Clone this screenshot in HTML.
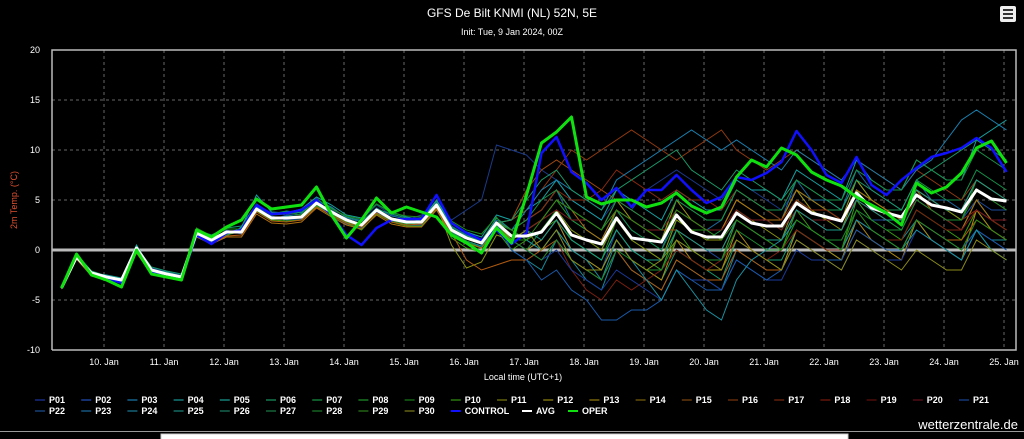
<!DOCTYPE html>
<html><head><meta charset="utf-8"><style>
html,body{margin:0;padding:0;background:#000;width:1024px;height:439px;overflow:hidden}
svg{display:block;font-family:"Liberation Sans",sans-serif}
</style></head><body>
<svg id="chart" width="1024" height="439" viewBox="0 0 1024 439">
<rect x="0" y="0" width="1024" height="439" fill="#000"/>
<text x="512" y="17" fill="#fff" font-size="12" text-anchor="middle">GFS De Bilt KNMI (NL) 52N, 5E</text>
<text x="512" y="35" fill="#fff" font-size="9" text-anchor="middle">Init: Tue, 9 Jan 2024, 00Z</text>
<g>
<rect x="1000" y="6" width="16" height="16" rx="2" fill="#eee"/>
<rect x="1003" y="9" width="10" height="2" fill="#333"/><rect x="1003" y="13" width="10" height="2" fill="#333"/><rect x="1003" y="17" width="10" height="2" fill="#333"/>
</g>
<text transform="translate(17,200) rotate(-90)" fill="#e05030" font-size="9" text-anchor="middle">2m Temp. (°C)</text>
<text x="523" y="380" fill="#fff" font-size="9" text-anchor="middle">Local time (UTC+1)</text>
<g id="grid"></g>
<g id="series"></g>
<g id="legend"></g>
<line x1="0" y1="431.5" x2="1024" y2="431.5" stroke="#999" stroke-width="1"/>
<rect x="0" y="432" width="1024" height="7" fill="#000"/>
<rect x="161" y="434" width="687" height="6" fill="#fff" stroke="#ccc"/>
<text x="1018" y="429" fill="#fff" font-size="13" text-anchor="end">wetterzentrale.de</text>
</svg>
<script>
const yTicks=[20,15,10,5,0,-5,-10];
const xTickLabels=["10. Jan","11. Jan","12. Jan","13. Jan","14. Jan","15. Jan","16. Jan","17. Jan","18. Jan","19. Jan","20. Jan","21. Jan","22. Jan","23. Jan","24. Jan","25. Jan"];
const avgValues=[-3.8,-0.7,-2.3,-2.7,-3.0,0.2,-2.0,-2.4,-2.7,1.7,1.0,1.8,1.8,4.1,3.2,3.2,3.3,4.7,3.8,3.0,2.5,4.0,3.1,2.8,2.8,4.5,2.0,1.2,0.7,2.7,1.4,1.4,1.8,3.7,1.5,1.0,0.6,3.2,1.2,1.0,0.8,3.5,1.8,1.3,1.3,3.7,2.7,2.4,2.4,4.7,3.7,3.3,2.9,5.7,4.2,3.7,3.3,5.5,4.5,4.2,3.8,6.0,5.1,4.9];
const operValues=[-3.8,-0.4,-2.5,-3.0,-3.7,0.0,-2.4,-2.7,-3.0,2.0,1.3,2.3,3.0,5.1,4.1,4.3,4.5,6.3,3.5,1.2,3.0,5.2,3.7,4.3,3.8,3.3,1.5,0.7,-0.3,2.2,0.7,5.5,10.7,11.8,13.3,5.3,4.6,5.0,5.0,4.3,4.7,5.7,4.4,3.7,4.3,7.3,9.0,8.3,10.2,9.5,7.8,7.0,6.4,5.3,4.5,3.7,2.5,6.7,5.7,6.3,7.7,10.2,10.9,8.7];
const controlValues=[-3.8,-0.6,-2.4,-2.8,-3.3,0.1,-2.2,-2.6,-2.9,1.5,0.6,1.7,2.0,4.5,3.6,3.7,4.0,5.0,3.5,1.5,0.5,2.2,3.0,3.1,3.1,5.5,2.7,1.7,1.0,2.0,0.6,1.7,9.7,11.3,7.8,6.7,5.0,6.2,4.3,6.0,6.0,7.5,6.0,4.7,5.3,7.3,7.0,7.7,8.8,11.9,10.0,7.5,6.7,9.3,6.5,5.5,7.0,8.2,9.3,9.7,10.2,11.2,10.2,7.8];
const sharedEarly=[-3.8,-0.7,-2.3,-2.7,-3.0,0.2,-2.0,-2.4,-2.7,1.7,1.0,1.8,1.8,4.1,3.2,3.2,3.3,4.7,3.8,3.0,2.5,4.0,3.1,2.8,2.8,4.5,2.0,1.2,0.7,2.7];
const p01=[-3.8,-0.5,-2.2,-2.6,-2.9,0.4,-1.8,-2.2,-2.5,1.5,0.8,1.5,2.0,4.4,3.0,3.5,3.8,5.2,4.0,3.4,3.0,4.5,3.5,3.0,3.5,4.0,3.0,4.0,5.0,10.5,10,9.5,8,7,5,4,3,5,4,6,7,8,7,6,5,7,6,5,4,6,5,4,3,5,4,4,3,6,5,4,3,5,3,2];
const p02=[-3.7,-0.8,-2.4,-2.8,-3.2,0.3,-2.1,-2.5,-2.8,1.4,0.9,2.0,1.6,4.0,3.4,3.0,3.1,4.4,3.5,2.6,2.2,3.8,2.8,2.5,2.5,4.2,1.5,0.8,0.3,2.5,1,0,1,3,0,-1,-2,2,0,-1,-2,2,1,0,-1,3,2,1,1,4,3,2,2,5,3,3,2,5,4,3,3,5,4,4];
const p03=[-3.8,-0.6,-2.2,-2.9,-3.1,0.0,-2.0,-2.3,-2.6,1.8,1.2,1.6,2.2,4.3,3.5,3.6,3.8,4.9,4.3,3.2,2.8,4.2,3.4,3.1,3.2,4.8,2.4,1.5,1.0,3.0,2,3,4,6,3,2,1,4,2,1,0,4,3,2,3,6,5,4,3,7,5,5,4,8,6,5,4,7,5,5,4,7,6,5];
const p04=[-3.9,-0.7,-2.5,-2.8,-3.0,0.1,-1.9,-2.4,-2.7,1.6,1.1,1.9,1.7,4.2,3.1,3.4,3.6,4.6,3.9,3.1,2.4,3.9,3.0,2.9,2.6,4.4,1.8,0.9,0.4,2.6,0,-1,-2,1,-1,-3,-4,0,-2,-3,-4,-1,-2,-3,-4,0,-1,-2,-2,2,1,0,0,3,2,1,1,3,2,1,0,2,1,1];
const p05=[-3.8,-0.9,-2.3,-2.5,-2.8,0.5,-2.0,-2.2,-2.6,1.9,0.7,1.4,2.3,5.5,3.8,3.7,4.1,5.3,4.5,3.5,3.2,4.6,3.8,3.3,3.0,5.0,2.6,1.8,1.3,3.5,3,4,5,7,5,4,3,6,5,4,3,6,5,4,4,7,6,6,5,8,7,6,5,9,7,6,6,9,8,7,7,11,12,13];
const p06=[-3.7,-0.4,-2.1,-2.6,-2.9,0.3,-1.7,-2.1,-2.4,2.0,1.5,2.2,2.4,4.6,3.6,3.9,3.7,5.0,4.2,3.3,2.9,4.1,3.6,3.2,2.9,4.9,2.3,1.4,0.9,3.2,2,1,0,2,0,-1,-2,1,-1,-2,-3,0,-1,-2,-3,1,0,-1,-1,2,1,0,-1,3,2,1,0,3,1,0,-1,2,0,-1];
const p07=[-3.8,-0.7,-2.4,-2.7,-3.0,0.2,-2.1,-2.5,-2.8,1.8,1.0,1.8,1.9,4.1,3.2,3.1,3.4,4.8,3.7,2.9,2.6,4.0,3.2,2.7,2.8,4.6,2.2,1.1,0.6,2.8,1,0,2,4,2,1,0,4,2,1,0,3,2,1,2,5,4,3,3,6,5,4,4,7,5,4,4,7,6,5,5,8,7,6];
const p08=[-3.8,-0.6,-2.3,-2.7,-3.1,0.2,-2.0,-2.4,-2.7,1.7,1.3,1.7,1.8,4.0,3.3,3.3,3.2,4.5,3.6,2.8,2.3,3.7,2.9,2.6,2.7,4.3,1.7,0.9,0.2,2.4,1,2,3,5,3,2,1,4,3,2,1,5,4,3,3,6,5,4,3,6,5,4,3,6,4,3,2,5,4,3,2,5,3,2];
const p09=[-3.7,-0.5,-2.2,-2.6,-2.9,0.3,-1.9,-2.3,-2.6,2.2,1.4,2.1,2.1,4.4,3.7,3.8,3.5,5.1,4.1,3.4,3.1,4.6,3.7,3.4,3.3,5.4,2.9,2.0,1.6,3.3,1,1,2,4,1,0,-1,3,1,0,-1,3,2,2,1,4,3,3,2,5,4,3,3,6,5,4,3,6,5,4,3,7,6,5];
const p10=[-3.8,-0.8,-2.4,-2.8,-3.1,0.1,-2.1,-2.5,-2.8,1.5,0.9,1.5,1.9,3.9,3.0,2.9,3.0,4.4,3.4,2.7,2.0,3.6,2.8,2.4,2.4,4.1,1.2,0.2,-0.2,2.0,0,1,2,3,1,0,-1,2,0,-1,-2,2,0,-1,-1,3,2,1,0,4,2,1,0,5,3,2,1,4,3,2,1,4,2,1];
const p11=[-3.8,-0.7,-2.3,-2.7,-3.0,0.2,-2.0,-2.4,-2.7,1.6,1.0,1.8,1.8,4.1,3.2,3.2,3.3,4.7,3.8,3.0,2.5,4.0,3.1,2.8,2.8,4.5,0.5,-1.8,-1.2,1.5,1,2,3,4,2,1,0,3,1,0,-1,3,2,1,1,4,3,2,1,5,4,3,2,6,5,4,3,6,5,4,3,6,5,4];
const p12=[-3.8,-0.6,-2.2,-2.7,-3.0,0.2,-2.0,-2.3,-2.6,1.7,1.1,1.9,1.9,4.2,3.3,3.3,3.4,4.8,3.9,3.1,2.6,4.1,3.2,2.9,2.9,4.6,2.1,1.3,0.8,2.8,2,3,4,6,4,3,2,5,3,2,1,5,3,2,2,5,4,3,3,6,4,3,3,7,5,4,3,6,5,4,4,7,6,5];
const p13=[-3.8,-0.7,-2.4,-2.7,-3.0,0.2,-2.0,-2.4,-2.7,1.6,1.0,1.7,1.7,4.0,3.1,3.1,3.2,4.6,3.7,2.9,2.4,3.9,3.0,2.7,2.7,4.4,1.9,1.1,0.6,2.6,1,0,1,3,0,-1,-2,1,-1,-2,-3,1,-1,-2,-2,2,0,-1,-2,2,1,0,-1,3,1,0,-1,3,1,0,-1,4,2,1];
const p14=[-3.9,-0.9,-2.6,-2.9,-3.2,-0.3,-2.4,-2.7,-3.0,1.3,0.6,1.3,1.3,3.6,2.7,2.6,2.8,4.2,3.3,2.5,2.1,3.5,2.6,2.3,2.3,4.0,1.5,0.7,0.2,2.2,1,2,3,5,4,2,1,4,3,2,1,4,3,2,2,5,4,3,3,6,5,4,3,6,5,4,3,6,4,3,2,5,3,2];
const p15=[-3.8,-0.8,-2.5,-2.9,-3.2,-0.1,-2.3,-2.6,-2.9,1.4,0.7,1.4,1.5,3.8,2.9,2.8,3.0,4.3,3.5,2.7,2.3,3.7,2.8,2.5,2.6,4.2,1.7,-1.0,-2.0,-1.5,-1,-1,0,1,-1,-2,-3,0,-2,-3,-4,-1,-2,-3,-3,0,-1,-2,-2,1,0,-1,-1,2,1,0,0,3,2,1,1,3,2,1];
const p16Late=[3,6,8,9,8,7,6,5,4,3,2,2,1,0,0,3,2,1,1,4,3,2,2,5,4,3,3,6,5,4,4,6,5,5];
const p17Late=[3,4,6,8,10,9,10,11,12,11,10,9,10,11,12,10,9,8,9,10,9,8,7,9,8,7,6,8,7,6,5,7,6,5];
const p18Late=[2,3,4,6,5,5,6,8,7,6,5,6,5,5,4,6,5,4,3,5,4,4,3,5,4,3,3,5,4,3,3,4,3,2];
const p19Late=[1,0,-1,1,-2,-4,-5,-3,-4,-3,-2,0,-1,-2,-1,1,0,-1,0,2,1,0,0,3,2,1,1,4,3,2,2,4,3,2];
const p20Late=[1,2,3,4,3,3,2,4,3,2,2,4,3,2,2,4,3,3,2,4,3,3,3,5,4,3,3,5,4,3,2,4,3,3];
const p21Late=[1,0,-1,0,-2,-3,-4,-2,-3,-4,-5,-2,-3,-3,-4,-1,-2,-3,-3,0,-1,-1,-2,1,0,-1,-1,2,1,0,-1,2,1,0];
const p22Late=[0,-1,-3,-2,-4,-5,-7,-7,-6,-6,-5,-2,-3,-4,-4,-1,-2,-3,-2,1,0,-1,-1,2,1,0,0,3,2,1,0,2,1,0];
const p23Late=[2,4,6,7,6,5,4,7,8,9,10,11,12,11,10,11,10,9,8,10,9,8,7,9,8,7,6,8,9,11,13,14,13,12];
const p24Late=[2,1,0,2,0,-1,-3,1,-1,-3,-5,-2,-4,-6,-7,-3,-1,0,1,3,2,1,0,3,2,1,0,2,1,0,-1,2,0,-1];
const p25Late=[1,2,1,3,1,0,-1,2,0,-1,-1,2,1,0,0,3,2,1,1,4,3,2,2,5,4,3,3,6,5,4,4,7,6,5];
const p26Late=[3,5,7,8,6,5,4,6,7,8,9,10,8,7,6,8,7,6,5,7,6,5,4,7,6,5,4,7,8,9,10,11,10,9];
const p27Late=[2,3,5,6,4,3,2,5,4,3,2,5,4,3,3,6,5,4,4,7,6,5,5,8,7,6,6,9,8,7,7,10,9,8];
const p28Late=[1,0,-1,1,-1,-2,-3,0,-1,-2,-2,1,0,-1,-1,2,1,0,0,3,2,1,1,4,3,2,2,5,4,3,3,6,5,4];
const p29Late=[2,1,3,5,4,3,2,4,3,2,1,4,3,2,1,3,2,1,0,3,2,1,0,4,2,1,0,3,2,1,0,3,2,1];
const p30Late=[1,2,0,2,-1,-2,-2,1,-1,-2,-1,1,0,-1,-2,1,0,-1,-2,1,0,-1,-2,1,0,-1,-2,0,-1,-2,-2,1,0,-1];
const memberNames=["P01","P02","P03","P04","P05","P06","P07","P08","P09","P10","P11","P12","P13","P14","P15","P16","P17","P18","P19","P20","P21","P22","P23","P24","P25","P26","P27","P28","P29","P30"];
const memberValues=[p01,p02,p03,p04,p05,p06,p07,p08,p09,p10,p11,p12,p13,p14,p15,
 sharedEarly.concat(p16Late),sharedEarly.concat(p17Late),sharedEarly.concat(p18Late),sharedEarly.concat(p19Late),sharedEarly.concat(p20Late),
 sharedEarly.concat(p21Late),sharedEarly.concat(p22Late),sharedEarly.concat(p23Late),sharedEarly.concat(p24Late),sharedEarly.concat(p25Late),
 sharedEarly.concat(p26Late),sharedEarly.concat(p27Late),sharedEarly.concat(p28Late),sharedEarly.concat(p29Late),sharedEarly.concat(p30Late)];
const memberColors=["#1a3a8a","#1d4a9a","#1a6aa0","#178a9a","#16a0a0","#149a70","#14904a","#1a9a30","#1a8a1a","#3a9a10","#8a9010","#a09a10","#b08a10","#b07010","#b05a10","#a04a10","#903a10","#8a2a10","#7a2010","#7a1a20","#1a3a9a","#1a5aaa","#1a80b0","#1a90a0","#1a9a8a","#1a9a6a","#1a904a","#1a8a30","#2a8a1a","#8a8a1a"];
const legendColors=["#102060","#143070","#104a6a","#0f5a5a","#0f605a","#0f5a3a","#0f5a2a","#125a1a","#0f4a10","#1f5a0a","#4a4a08","#5a5208","#5a4a08","#4a3a08","#4a2a08","#4a2008","#4a1808","#4a1008","#3a0a08","#3a0a10","#0f2a5a","#10305a","#104060","#104a5a","#10504a","#104a3a","#104a2a","#104a1a","#1a4a10","#4a4a10"];

const svg=document.getElementById('chart');
const NS='http://www.w3.org/2000/svg';
const L=52,R=1016,T=50,B=350;
function yScale(v){return B-(v-(-10))*(B-T)/30;}
function xScale(i){return 61.5+i*15;}
function dayX(d){return 104+d*60;}
function mk(tag,attrs,parent){const e=document.createElementNS(NS,tag);for(const k in attrs)e.setAttribute(k,attrs[k]);(parent||svg).appendChild(e);return e;}
const grid=document.getElementById('grid');
yTicks.forEach(v=>{
 const y=yScale(v);
 if(v!==20&&v!==-10&&v!==0){const g=mk('line',{x1:L,x2:R,y1:y,y2:y,stroke:'#666','stroke-dasharray':'3,3','stroke-width':1},grid);
 
 }
 const t=mk('text',{x:40,y:y+3,fill:'#fff','font-size':9,'text-anchor':'end'},grid);
 t.textContent=v;
 
 
});
xTickLabels.forEach((lab,d)=>{
 const x=dayX(d);
 const g=mk('line',{x1:x,x2:x,y1:T,y2:B,stroke:'#666','stroke-dasharray':'3,3','stroke-width':1},grid);
 
 
 const t=mk('text',{x:x,y:365,fill:'#fff','font-size':9,'text-anchor':'middle'},grid);
 t.textContent=lab;
 
 
});
const frame=mk('path',{d:`M${L},${B} L${L},${T} L${R},${T} L${R},${B} L${L},${B}`,fill:'none',stroke:'#bbb','stroke-width':1.5},grid);


const zero=mk('line',{x1:L,x2:R,y1:yScale(0),y2:yScale(0),stroke:'#bbb','stroke-width':3},grid);



const series=document.getElementById('series');
function pts(arr){return arr.map((v,i)=>xScale(i).toFixed(1)+','+yScale(v).toFixed(1)).join(' ');}
memberValues.forEach((arr,m)=>{
 const p=mk('polyline',{points:pts(arr),fill:'none',stroke:memberColors[m],'stroke-width':1},series);
 
 
});
const cl=mk('polyline',{points:pts(controlValues),fill:'none',stroke:'#1010ff','stroke-width':2.5,'stroke-linejoin':'round'},series);


const al=mk('polyline',{points:pts(avgValues),fill:'none',stroke:'#fff','stroke-width':3,'stroke-linejoin':'round'},series);


const ol=mk('polyline',{points:pts(operValues),fill:'none',stroke:'#10e010','stroke-width':3,'stroke-linejoin':'round'},series);



const legend=document.getElementById('legend');
const legNames=memberNames.concat(["CONTROL","AVG","OPER"]);
const legCols=legendColors.concat(["#1010ff","#fff","#10e010"]);
legNames.forEach((n,i)=>{
 const row=i<21?0:1, col=i<21?i:i-21;
 let x=35+col*46.2;
 if(n==="AVG")x=522;
 if(n==="OPER")x=568;
 const y=row?414:403;
 const g=mk('g',{},legend);
 
 
 mk('line',{x1:x,x2:x+10,y1:y-3,y2:y-3,stroke:legCols[i],'stroke-width':2},g);
 const t=mk('text',{x:x+14,y:y,fill:'#fff','font-size':9,'font-weight':'bold'},g);
 t.textContent=n;
});
</script>
</body></html>
